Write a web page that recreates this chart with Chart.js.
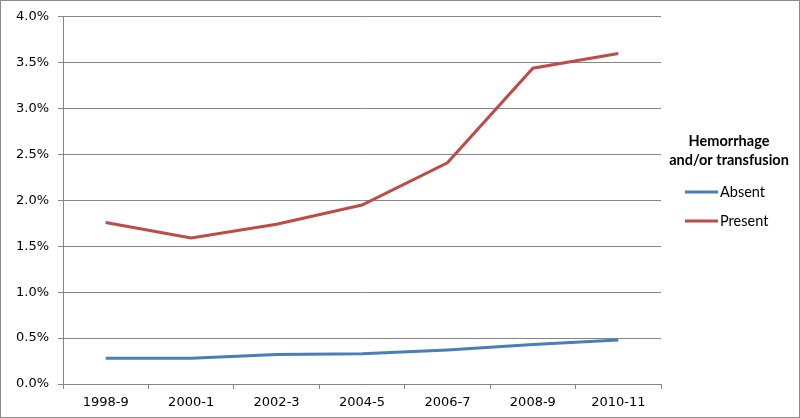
<!DOCTYPE html>
<html>
<head>
<meta charset="utf-8">
<script src="https://cdn.jsdelivr.net/npm/chart.js@4"></script>
<style>
html,body{margin:0;padding:0;background:#fff;}
#wrap{width:800px;height:418px;position:relative;}
</style>
</head>
<body>
<div id="wrap"><canvas id="c" width="800" height="418"></canvas></div>
<script>
const categories = ["1998-9","2000-1","2002-3","2004-5","2006-7","2008-9","2010-11"];
const absentValues = [0.28,0.28,0.32,0.33,0.37,0.43,0.48];
const presentValues = [1.76,1.59,1.74,1.95,2.41,3.44,3.60];
const yTicks = [0,0.5,1.0,1.5,2.0,2.5,3.0,3.5,4.0];
const legendTitle = ["Hemorrhage","and/or transfusion"];

const customLegend = {
  id:'customLegend',
  afterDraw(chart){
    const ctx = chart.ctx;
    ctx.save();
    ctx.strokeStyle = '#8c8c8c';
    ctx.lineWidth = 1;
    ctx.strokeRect(0.5,0.5,799,417);
    ctx.fillStyle = '#000';
    ctx.font = 'bold 14.5px Lato, "Open Sans", sans-serif';
    ctx.textAlign = 'center';
    ctx.textBaseline = 'middle';
    legendTitle.forEach((t,i)=>ctx.fillText(t,729,141+i*19));
    ctx.font = '14.5px Lato, "Open Sans", sans-serif';
    ctx.textAlign = 'left';
    chart.data.datasets.forEach((ds,i)=>{
      const y = 192 + i*29;
      ctx.strokeStyle = ds.borderColor;
      ctx.lineWidth = 3;
      ctx.beginPath();
      ctx.moveTo(685,y);
      ctx.lineTo(718,y);
      ctx.stroke();
      ctx.fillStyle = '#000';
      ctx.fillText(ds.label,720,y);
    });
    ctx.restore();
  }
};

new Chart(document.getElementById('c'),{
  type:'line',
  data:{
    labels:categories,
    datasets:[
      {label:'Absent',data:absentValues,borderColor:'#4a7ebb',backgroundColor:'#4a7ebb',borderWidth:3,pointRadius:0,tension:0,fill:false},
      {label:'Present',data:presentValues,borderColor:'#be4b48',backgroundColor:'#be4b48',borderWidth:3,pointRadius:0,tension:0,fill:false}
    ]
  },
  options:{
    responsive:false,
    animation:false,
    layout:{padding:{top:15,right:139,left:0,bottom:0}},
    plugins:{legend:{display:false},tooltip:{enabled:false}},
    scales:{
      x:{
        offset:true,
        grid:{display:true,drawOnChartArea:false,offset:true,tickLength:5,color:'#868686'},
        border:{color:'#868686'},
        ticks:{color:'#000',font:{family:'"DejaVu Sans", Verdana, sans-serif',size:13},padding:6,maxRotation:0},
        afterFit(s){s.height=34;}
      },
      y:{
        min:0,max:4,
        afterBuildTicks(s){s.ticks = yTicks.map(v=>({value:v}));},
        grid:{color:'#868686',tickLength:5},
        border:{color:'#868686'},
        ticks:{color:'#000',font:{family:'"DejaVu Sans", Verdana, sans-serif',size:13},padding:9,callback:v=>v.toFixed(1)+'%'},
        afterFit(s){s.width=63;}
      }
    }
  },
  plugins:[customLegend]
});
</script>
</body>
</html>
